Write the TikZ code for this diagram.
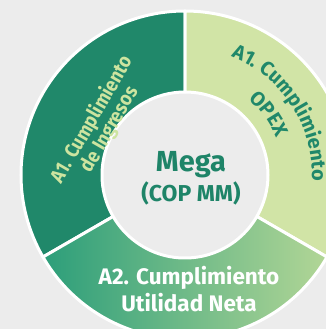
\documentclass[tikz,border=0pt]{standalone}
\usepackage{fontspec}
\setmainfont{Fira Sans}
\usetikzlibrary{positioning, decorations.text}
\definecolor{bggrey}{RGB}{236, 236, 236}
\definecolor{deepgreen}{RGB}{32, 136, 106}
\definecolor{palegreen}{RGB}{209, 228, 166}
\definecolor{labelgreen}{RGB}{205, 228, 160}
\definecolor{tealgreen}{RGB}{44, 158, 122}
\definecolor{softgreen}{RGB}{178, 214, 150}
\definecolor{megagreen}{RGB}{30, 132, 104}

\tikzset{
  sector/.style={draw=white, line width=3pt, line join=round},
  seglabel/.style={font=\fontsize{20}{20}\selectfont\bfseries, align=center},
}

\begin{document}
\begin{tikzpicture}[x=1pt, y=1pt]
  \useasboundingbox[fill=bggrey] (-185,-154) rectangle (141,175);
  \clip (-185,-154) rectangle (141,175);

  % Ingresos segment
  \path[sector, fill=deepgreen] (90:83pt) -- (90:164pt)
    arc[start angle=90, end angle=210, radius=164pt] -- (210:83pt)
    arc[start angle=210, end angle=90, radius=83pt] -- cycle;

  % OPEX segment
  \path[sector, fill=palegreen] (-30:83pt) -- (-30:164pt)
    arc[start angle=-30, end angle=90, radius=164pt] -- (90:83pt)
    arc[start angle=90, end angle=-30, radius=83pt] -- cycle;

  % Utilidad segment
  \path[sector, left color=tealgreen, right color=softgreen] (210:83pt) -- (210:164pt)
    arc[start angle=210, end angle=330, radius=164pt] -- (330:83pt)
    arc[start angle=330, end angle=210, radius=83pt] -- cycle;

  % Labels
  \node[seglabel, text=labelgreen, rotate=60, xscale=0.9] (ingresos) at (149:98pt) {A1. Cumplimiento\\de Ingresos};

  \path[decorate, decoration={text along path, text align=center,
      text={|\fontsize{20}{20}\selectfont\bfseries\color{deepgreen}|A1. Cumplimiento}}]
    (90:127pt) arc[start angle=90, end angle=-24, radius=127pt];
  \path[decorate, decoration={text along path, text align=center,
      text={|\fontsize{20}{20}\selectfont\bfseries\color{deepgreen}|OPEX}}]
    (70:99pt) arc[start angle=70, end angle=2, radius=99pt];

  \node[seglabel, text=white, font=\fontsize{22.5}{27}\selectfont\bfseries] (utilidad) at (4,-114) {A2. Cumplimiento\\Utilidad Neta};

  % Centre
  \node[font=\fontsize{29}{29}\selectfont\bfseries, text=megagreen] (mega) at (6,10) {Mega};
  \node[font=\fontsize{23}{23}\selectfont\bfseries, text=megagreen, below=-4pt of mega] (unit) {(COP MM)};
\end{tikzpicture}
\end{document}
